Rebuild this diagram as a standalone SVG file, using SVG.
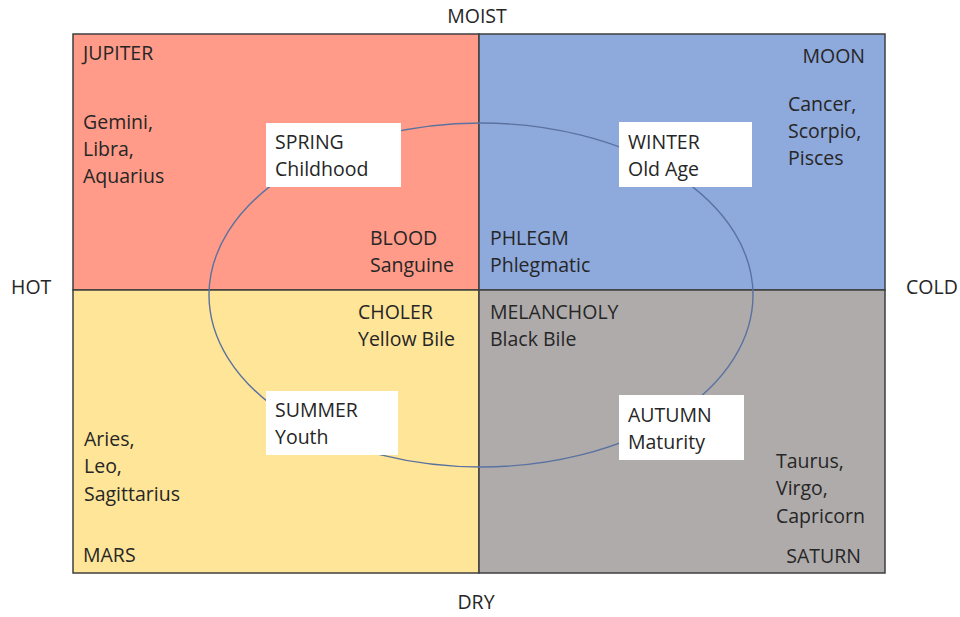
<svg xmlns="http://www.w3.org/2000/svg" width="960" height="617" viewBox="0 0 960 617">
<style>
text{font-family:"Open Sans","Noto Sans","Liberation Sans",sans-serif;font-size:19.5px;fill:#262626}
.q{stroke:#3f3f3f;stroke-width:1.5}
.box{fill:#ffffff}
.end{text-anchor:end}
.mid{text-anchor:middle}
</style>
<rect width="960" height="617" fill="#ffffff"/>
<g id="quadrants">
<rect id="q-blood" class="q" x="73" y="34" width="406" height="256" fill="#FF9B88"/>
<rect id="q-phlegm" class="q" x="479" y="34" width="406" height="256" fill="#8EA9DB"/>
<rect id="q-choler" class="q" x="73" y="290" width="406" height="283" fill="#FFE598"/>
<rect id="q-melancholy" class="q" x="479" y="290" width="406" height="283" fill="#AFABAB"/>
</g>
<g id="connectors">
<ellipse cx="481" cy="295" rx="272" ry="172" fill="none" stroke="#5A72A0" stroke-width="1.4"/>
</g>
<g id="axes">
<text class="mid" x="477" y="23">MOIST</text>
<text class="mid" x="476" y="609">DRY</text>
<text x="11" y="294">HOT</text>
<text x="906" y="294">COLD</text>
</g>
<g id="jupiter">
<text x="83" y="60">JUPITER</text>
<text x="83" y="129">Gemini,</text>
<text x="83" y="156">Libra,</text>
<text x="83" y="183">Aquarius</text>
</g>
<g id="moon">
<text class="end" x="865" y="63">MOON</text>
<text x="788" y="111">Cancer,</text>
<text x="788" y="138">Scorpio,</text>
<text x="788" y="165">Pisces</text>
</g>
<g id="mars">
<text x="84" y="446">Aries,</text>
<text x="84" y="473">Leo,</text>
<text x="84" y="501">Sagittarius</text>
<text x="83" y="562">MARS</text>
</g>
<g id="saturn">
<text x="776" y="468">Taurus,</text>
<text x="776" y="495">Virgo,</text>
<text x="776" y="523">Capricorn</text>
<text class="end" x="861" y="563">SATURN</text>
</g>
<g id="blood">
<text x="370" y="245">BLOOD</text>
<text x="370" y="272">Sanguine</text>
</g>
<g id="phlegm">
<text x="490" y="245">PHLEGM</text>
<text x="490" y="272">Phlegmatic</text>
</g>
<g id="choler">
<text x="358" y="319">CHOLER</text>
<text x="358" y="346">Yellow Bile</text>
</g>
<g id="melancholy">
<text x="490" y="319">MELANCHOLY</text>
<text x="490" y="346">Black Bile</text>
</g>
<g id="spring">
<rect class="box" x="266" y="123" width="135" height="64"/>
<text x="275" y="149">SPRING</text>
<text x="275" y="176">Childhood</text>
</g>
<g id="winter">
<rect class="box" x="619" y="122" width="133" height="65"/>
<text x="628" y="149">WINTER</text>
<text x="628" y="176">Old Age</text>
</g>
<g id="summer">
<rect class="box" x="266" y="391" width="132" height="64"/>
<text x="275" y="417">SUMMER</text>
<text x="275" y="444">Youth</text>
</g>
<g id="autumn">
<rect class="box" x="619" y="395" width="125" height="65"/>
<text x="628" y="422">AUTUMN</text>
<text x="628" y="449">Maturity</text>
</g>
</svg>
